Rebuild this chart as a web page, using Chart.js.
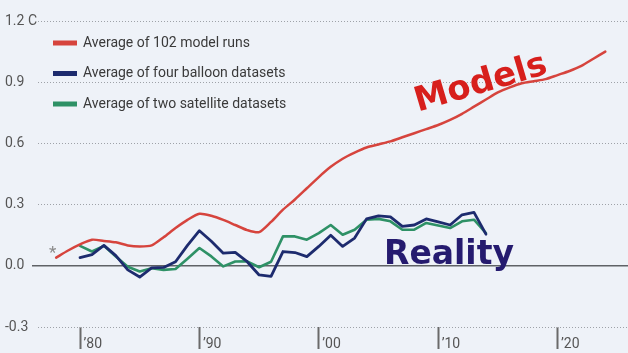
<!DOCTYPE html>
<html>
<head>
<meta charset="utf-8">
<script src="https://cdn.jsdelivr.net/npm/chart.js@4"></script>
<style>
  html, body { margin: 0; padding: 0; background: #eef2f8; }
  #wrap { width: 628px; height: 353px; }
</style>
</head>
<body>
<div id="wrap"><canvas id="chart"></canvas></div>
<script>
// years on the x axis
const years = [1978, 1979, 1980, 1981, 1982, 1983, 1984, 1985, 1986, 1987, 1988, 1989,
  1990, 1991, 1992, 1993, 1994, 1995, 1996, 1997, 1998, 1999, 2000, 2001, 2002, 2003,
  2004, 2005, 2006, 2007, 2008, 2009, 2010, 2011, 2012, 2013, 2014, 2015, 2016, 2017,
  2018, 2019, 2020, 2021, 2022, 2023, 2024];

// Average of 102 model runs
const modelRuns = [0.04, 0.075, 0.105, 0.128, 0.122, 0.115, 0.10, 0.095, 0.10, 0.14, 0.185, 0.225,
  0.255, 0.245, 0.225, 0.20, 0.175, 0.165, 0.215, 0.275, 0.325, 0.38, 0.435, 0.485, 0.525, 0.555,
  0.58, 0.595, 0.61, 0.63, 0.65, 0.67, 0.69, 0.715, 0.745, 0.78, 0.815, 0.85, 0.875, 0.895,
  0.905, 0.915, 0.935, 0.955, 0.98, 1.015, 1.05];

// Average of four balloon datasets
const balloons = [null, null, 0.04, 0.055, 0.10, 0.05, -0.02, -0.055, -0.01, -0.008, 0.02, 0.10,
  0.172, 0.12, 0.062, 0.066, 0.02, -0.045, -0.052, 0.07, 0.065, 0.045, 0.095, 0.15, 0.095, 0.136,
  0.23, 0.245, 0.24, 0.193, 0.20, 0.23, 0.215, 0.20, 0.25, 0.262, 0.155, null, null, null,
  null, null, null, null, null, null, null];

// Average of two satellite datasets
const satellites = [null, null, 0.098, 0.07, 0.098, 0.046, -0.005, -0.028, -0.012, -0.02, -0.016, 0.035,
  0.087, 0.046, -0.003, 0.021, 0.022, -0.007, 0.02, 0.144, 0.144, 0.128, 0.16, 0.20, 0.152, 0.177,
  0.226, 0.23, 0.218, 0.177, 0.177, 0.21, 0.198, 0.185, 0.218, 0.226, 0.16, null, null, null,
  null, null, null, null, null, null, null];

const seriesLabels = ['Average of 102 model runs', 'Average of four balloon datasets', 'Average of two satellite datasets'];
const seriesColors = ['#d6443d', '#1d2b6e', '#2e9166'];

const xTickValues = [1980, 1990, 2000, 2010, 2020];
const xTickLabels = [' \u201980', ' \u201990', ' \u201900', ' \u201910', ' \u201920'];
const yTickValues = [-0.3, 0, 0.3, 0.6, 0.9, 1.2];
const yTickLabels = ['-0.3', '0.0', '0.3', '0.6', '0.9', '1.2 C'];

const pts = vals => years.map((yr, i) => ({ x: yr, y: vals[i] }));

// solid zero line, legend, and the hand-written notes
const extras = {
  id: 'extras',
  beforeDatasetsDraw(chart) {
    const { ctx, chartArea, scales } = chart;
    const y0 = scales.y.getPixelForValue(0);
    ctx.save();
    ctx.strokeStyle = '#5f6266';
    ctx.lineWidth = 1.5;
    ctx.beginPath();
    ctx.moveTo(chartArea.left - 6, y0);
    ctx.lineTo(chartArea.right, y0);
    ctx.stroke();
    ctx.restore();
  },
  afterDatasetsDraw(chart) {
    const { ctx, scales } = chart;
    ctx.save();
    // legend
    chart.data.datasets.forEach((ds, i) => {
      const cy = 43 + i * 30.5;
      ctx.fillStyle = ds.borderColor;
      ctx.fillRect(53, cy - 2.5, 24, 5);
      ctx.fillStyle = '#3a3a3a';
      ctx.font = '14px Roboto';
      ctx.textBaseline = 'middle';
      ctx.textAlign = 'left';
      ctx.fillText(ds.label, 83, cy);
    });
    // asterisk
    ctx.fillStyle = '#8a8a8a';
    ctx.font = '17px Roboto';
    ctx.textAlign = 'center';
    ctx.fillText('*', scales.x.getPixelForValue(1977.7), scales.y.getPixelForValue(0.06));
    // Models
    ctx.save();
    ctx.translate(481, 84);
    ctx.rotate(-16.5 * Math.PI / 180);
    ctx.fillStyle = '#d71f1c';
    ctx.font = 'bold 34px "DejaVu Sans"';
    ctx.textAlign = 'center';
    ctx.textBaseline = 'middle';
    ctx.fillText('Models', 0, 0);
    ctx.restore();
    // Reality
    ctx.fillStyle = '#251b6f';
    ctx.font = 'bold 33px "DejaVu Sans"';
    ctx.textAlign = 'left';
    ctx.textBaseline = 'alphabetic';
    ctx.fillText('Reality', 384, 264);
    ctx.restore();
  }
};

new Chart(document.getElementById('chart'), {
  type: 'line',
  data: {
    datasets: [
      { label: seriesLabels[0], data: pts(modelRuns), borderColor: seriesColors[0], borderWidth: 2.5, tension: 0.25 },
      { label: seriesLabels[1], data: pts(balloons), borderColor: seriesColors[1], borderWidth: 2.8, tension: 0 },
      { label: seriesLabels[2], data: pts(satellites), borderColor: seriesColors[2], borderWidth: 2.6, tension: 0 }
    ]
  },
  options: {
    responsive: true,
    maintainAspectRatio: false,
    animation: false,
    layout: { padding: { left: 5, top: 21, right: 0, bottom: 0 } },
    elements: { point: { radius: 0 }, line: { borderCapStyle: 'round', borderJoinStyle: 'round' } },
    plugins: { legend: { display: false }, tooltip: { enabled: false } },
    scales: {
      x: {
        type: 'linear',
        min: 1976.48,
        max: 2025.9,
        afterBuildTicks: s => { s.ticks = xTickValues.map(v => ({ value: v })); },
        afterFit: s => { s.height = 26; },
        ticks: {
          autoSkip: false,
          maxRotation: 0,
          align: 'start',
          padding: -13,
          color: '#555',
          font: { family: 'Roboto', size: 14 },
          callback: (v) => xTickLabels[xTickValues.indexOf(v)]
        },
        grid: { drawOnChartArea: false, drawTicks: true, tickLength: 22, tickWidth: 2, tickColor: '#6a6a6a' },
        border: { display: false }
      },
      y: {
        min: -0.3,
        max: 1.2,
        afterBuildTicks: s => { s.ticks = yTickValues.map(v => ({ value: v })); },
        afterFit: s => { s.width = 33; },
        ticks: {
          crossAlign: 'far',
          color: '#555',
          font: { family: 'Roboto', size: 14 },
          callback: (v) => yTickLabels[yTickValues.findIndex(t => Math.abs(t - v) < 1e-6)]
        },
        grid: {
          drawTicks: false,
          lineWidth: 1,
          color: c => (c.tick && Math.abs(c.tick.value) < 1e-6) ? 'rgba(0,0,0,0)' : '#9ea2a8'
        },
        border: { display: false, dash: [1, 2] }
      }
    }
  },
  plugins: [extras]
});
</script>
</body>
</html>
